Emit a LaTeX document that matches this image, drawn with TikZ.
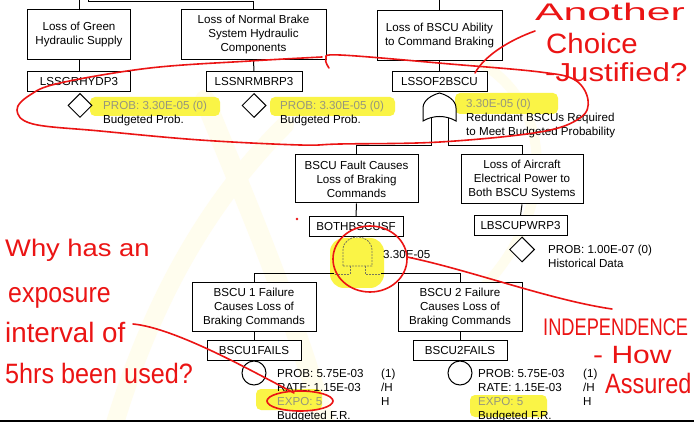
\documentclass[tikz,border=0pt]{standalone}
\usepackage{fontspec}
\setmainfont{Liberation Sans}
\usepackage{graphicx}
\usetikzlibrary{shapes.geometric}
\definecolor{hly}{RGB}{250,244,70}
\definecolor{hlgray}{RGB}{150,150,125}
\definecolor{gdash}{RGB}{120,120,90}
\definecolor{wmark}{RGB}{255,253,238}
\definecolor{hred}{RGB}{235,20,20}
\newcommand\tlines[1]{\begin{tabular}[t]{@{}l@{}}#1\end{tabular}}
\begin{document}
\begin{tikzpicture}[x=1pt,y=-1pt,
  box/.style={draw, line width=1pt, fill=white, align=center, inner sep=0pt, font=\fontsize{11.6}{14}\selectfont},
  lbl/.style={draw, line width=1pt, fill=white, inner sep=0pt, minimum height=20pt, font=\fontsize{11.6}{14}\selectfont},
  txt/.style={anchor=base west, inner sep=0pt, font=\fontsize{11.6}{14}\selectfont},
  ev/.style={draw, diamond, line width=1pt, inner sep=0pt, minimum width=24pt, minimum height=24pt, fill=white},
  basic/.style={draw, circle, line width=1pt, inner sep=0pt, minimum size=24pt, fill=white},
  conn/.style={line width=1pt},
  andg/.style={draw=gdash, line width=0.8pt, dash pattern=on 2pt off 1pt},
  hand/.style={draw=hred, line width=1.6pt, line cap=round, line join=round},
  handtxt/.style={text=hred, anchor=base west, inner sep=0pt},
  hl/.style={fill=hly, rounded corners=5pt},
  wm/.style={draw=wmark, line cap=round}]
\useasboundingbox (0,0) rectangle (694,422);
\fill[white] (0,0) rectangle (694,422);
% faint watermark
\draw[wm, line width=20pt] (205,100) .. controls (245,200) and (290,300) .. (330,440);
\draw[wm, line width=18pt] (285,125) .. controls (210,200) and (150,300) .. (110,440);
\draw[wm, line width=10pt] (465,55) .. controls (560,95) and (560,220) .. (470,300);
% highlights
\fill[hl] (90,97) rectangle (220,116);
\fill[hl] (270,97) rectangle (395,116);
\fill[hl] (455,93) rectangle (558,114);
\fill[hl, rounded corners=14pt] (330,238) rectangle (384,288);
\fill[hl] (256,389) rectangle (322,410);
\fill[hl] (470,395) rectangle (547,417);
% top level
\node[box, minimum width=103pt, minimum height=50pt] (green) at (79,35) {Loss of Green\\Hydraulic Supply};
\node[box, minimum width=145pt, minimum height=50pt] (normal) at (253.5,35) {Loss of Normal Brake\\System Hydraulic\\Components};
\node[box, minimum width=125pt, minimum height=50pt] (bscu) at (439.5,36) {Loss of BSCU Ability\\to Command Braking};
\coordinate (t1) at (79,-2);
\coordinate (t2) at (88,-2);
\coordinate (t3) at (439.5,-2);
\draw[conn] (green.north) -- (t1);
\draw[conn] (normal.north) -- ++(0,-8) -| (t2);
\draw[conn] (bscu.north) -- (t3);
\node[lbl, minimum width=103pt] (lgr) at (79,82) {LSSGRHYDP3};
\node[lbl, minimum width=96pt] (lnr) at (254,82) {LSSNRMBRP3};
\node[lbl, minimum width=95pt] (lof) at (439.5,82) {LSSOF2BSCU};
\draw[conn] (green.south) -- (lgr.north);
\draw[conn] (normal.south) -- (lnr.north);
\draw[conn] (bscu.south) -- (lof.north);
\node[ev] (dgr) at (80,105.5) {};
\node[ev] (dnr) at (254,105.5) {};
\node[txt] (p1) at (103,110) {\tlines{\textcolor{hlgray}{PROB: 3.30E-05 (0)}\\Budgeted Prob.}};
\node[txt] (p2) at (280,110) {\tlines{\textcolor{hlgray}{PROB: 3.30E-05 (0)}\\Budgeted Prob.}};
\node[txt] (p3) at (466,108) {\tlines{\textcolor{hlgray}{3.30E-05 (0)}\\Redundant BSCUs Required\\to Meet Budgeted Probability}};
% OR gate
\draw[conn, fill=white] (423,121) -- (423,108) .. controls (423,100) and (432,95) .. (439.5,93)
   .. controls (447,95) and (456,100) .. (456,108) -- (456,121) .. controls (446,115) and (433,115) .. cycle;
\coordinate (orA) at (431,118.5);
\coordinate (orB) at (448,118.5);
% level 2
\node[box, minimum width=123pt, minimum height=48pt] (fault) at (356.5,179) {BSCU Fault Causes\\Loss of Braking\\Commands};
\node[box, minimum width=122pt, minimum height=49pt] (power) at (522,179.5) {Loss of Aircraft\\Electrical Power to\\Both BSCU Systems};
\draw[conn] (orA) -- ++(0,27.5) -| (fault.north);
\draw[conn] (orB) -- ++(0,27.5) -| (power.north);
\node[lbl, minimum width=94pt] (both) at (356,227) {BOTHBSCUSF};
\node[lbl, minimum width=93pt] (lpw) at (520.5,226) {LBSCUPWRP3};
\draw[conn] (fault.south) -- (both.north);
\draw[conn] (power.south) -- (lpw.north);
\node[ev, minimum width=25pt, minimum height=25pt] (dpw) at (522,249.5) {};
\node[txt] (ppw) at (548,254) {\tlines{PROB: 1.00E-07 (0)\\Historical Data}};
% AND gate (dimmed)
\draw[andg] (343,266) -- (343,250) .. controls (343,242) and (350,237) .. (357.5,237)
   .. controls (365,237) and (372,242) .. (372,250) -- (372,266) -- cycle;
\coordinate (anA) at (350,266);
\coordinate (anB) at (365,266);
\node[txt] (pand) at (383,259) {3.30E-05};
% level 3
\node[box, minimum width=124pt, minimum height=49pt] (b1) at (254,307.5) {BSCU 1 Failure\\Causes Loss of\\Braking Commands};
\node[box, minimum width=124pt, minimum height=49pt] (b2) at (460,307.5) {BSCU 2 Failure\\Causes Loss of\\Braking Commands};
\draw[andg] (anA) -- ++(0,8) -- ++(-16,0);
\draw[andg] (anB) -- ++(0,8) -- ++(16,0);
\draw[conn] (334,274) -| (b1.north);
\draw[conn] (381,274) -| (b2.north);
\node[lbl, minimum width=94pt] (f1) at (254,350.5) {BSCU1FAILS};
\node[lbl, minimum width=94pt] (f2) at (460,350.5) {BSCU2FAILS};
\draw[conn] (b1.south) -- (f1.north);
\draw[conn] (b2.south) -- (f2.north);
\node[basic] (c1) at (254,373) {};
\node[basic] (c2) at (460,373) {};
\node[txt] (q1) at (277,377.5) {\tlines{PROB: 5.75E-03\\RATE: 1.15E-03\\\textcolor{hlgray}{EXPO: 5}\\Budgeted F.R.}};
\node[txt] (u1) at (381,377.5) {\tlines{(1)\\/H\\H}};
\node[txt] (q2) at (478,377.5) {\tlines{PROB: 5.75E-03\\RATE: 1.15E-03\\\textcolor{hlgray}{EXPO: 5}\\Budgeted F.R.}};
\node[txt] (u2) at (583,377.5) {\tlines{(1)\\/H\\H}};
\draw[line width=2pt] (0,421) -- (694,421);
% red annotations
\draw[hand] plot[smooth, tension=0.6] coordinates {(329,68) (326,59) (340,55) (450,64) (540,72) (575,80) (588,100) (580,118) (540,132) (440,142) (340,144) (300,145) (200,140) (100,131) (33,124) (17,110) (30,95) (60,83) (150,68) (250,61) (322,57)};
\draw[hand] (370,259) ellipse [x radius=37, y radius=33];
\draw[hand] (300,401) ellipse [x radius=33, y radius=10];
\fill[hred] (297,219) circle (1.4);
\node[handtxt, font=\fontsize{24}{28}\selectfont] (h1) at (535,21) {\scalebox{1.78}[1]{Another}};
\node[handtxt, font=\fontsize{28}{32}\selectfont] (h2) at (546,54) {\scalebox{1.05}[1]{Choice}};
\node[handtxt, font=\fontsize{26}{30}\selectfont] (h3) at (545,82) {\scalebox{1.2}[1]{-Justified?}};
\node[handtxt, font=\fontsize{24}{28}\selectfont] (h4) at (5,257) {\scalebox{1.14}[1]{Why has an}};
\node[handtxt, font=\fontsize{28}{32}\selectfont] (h5) at (8,302) {\scalebox{0.89}[1]{exposure}};
\node[handtxt, font=\fontsize{28}{32}\selectfont] (h6) at (5,342) {\scalebox{0.99}[1]{interval of}};
\node[handtxt, font=\fontsize{28}{32}\selectfont] (h7) at (5,383) {\scalebox{0.9}[1]{5hrs been used?}};
\node[handtxt, font=\fontsize{24}{28}\selectfont] (h8) at (543,335) {\scalebox{0.76}[1]{INDEPENDENCE}};
\node[handtxt, font=\fontsize{25}{29}\selectfont] (h9) at (593,363) {\scalebox{1.2}[1]{- How}};
\node[handtxt, font=\fontsize{28}{32}\selectfont] (h10) at (605,393) {\scalebox{0.84}[1]{Assured}};
\coordinate (aT) at (535,31);
\coordinate (eT) at (133,324);
\coordinate (eH) at (294,393);
\coordinate (cR) at (407,257);
\coordinate (iT) at (612,309);
\coordinate (lofT) at (475,73);
\draw[hand] (aT) .. controls (510,40) and (485,55) .. (lofT);
\draw[hand] (eT) .. controls (175,328) and (250,370) .. (eH);
\draw[hand] (cR) .. controls (470,270) and (550,300) .. (iT);
\end{tikzpicture}
\end{document}
